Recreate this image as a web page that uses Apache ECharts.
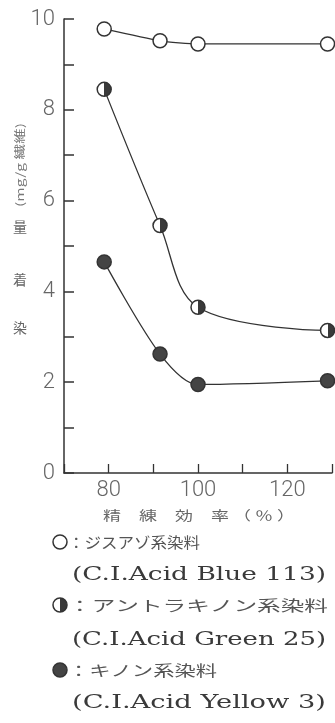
<!DOCTYPE html>
<html>
<head>
<meta charset="utf-8">
<style>
html,body{margin:0;padding:0;background:#fff;}
#chart{width:335px;height:723px;}
</style>
<script src="https://cdn.jsdelivr.net/npm/echarts@6/dist/echarts.min.js"></script>
</head>
<body>
<div id="chart"></div>
<script>
// ---- data ----
var scouringEfficiency = [79, 91.5, 100, 129];          // 精練効率 (%)
var disazoBlue113      = [9.78, 9.52, 9.45, 9.45];      // ジスアゾ系染料
var anthraquinoneGreen25 = [8.45, 5.45, 3.65, 3.14];    // アントラキノン系染料
var quinoneYellow3     = [4.65, 2.62, 1.95, 2.03];      // キノン系染料
var xTickLabels = [80, 100, 120];
var yTickLabels = [0, 2, 4, 6, 8, 10];
var yTitleChars = ['染', '着', '量'];
var yTitleUnit = '(mg/g 繊維)';
var xTitle = '精　練　効　率 （ ％ ）';
var legendNames = ['：ジスアゾ系染料', '：アントラキノン系染料', '：キノン系染料'];
var legendDyes = ['(C.I.Acid Blue 113)', '(C.I.Acid Green 25)', '(C.I.Acid Yellow 3)'];

function pairs(ys){ return ys.map(function(y,i){ return [scouringEfficiency[i], y]; }); }

var INK = '#333';
var halfStops = [
  {offset:0, color:'#fff'},{offset:0.5, color:'#fff'},{offset:0.5, color:'#3a3a3a'},{offset:1, color:'#3a3a3a'}];
var halfFill = {type:'linear', x:0, y:0, x2:1, y2:0, colorStops:halfStops};
var fills = ['#fff', halfFill, '#444'];

var measureCtx = document.createElement('canvas').getContext('2d');
function txtStyle(str, font, color, align){
  return {text:str, font:font, fill:color, align:align, verticalAlign:'middle'};
}
function fitText(str, font, x, y, width, color, rot){
  measureCtx.font = font;
  var w = measureCtx.measureText(str).width;
  var el = {type:'text', x:x, y:y, scaleX: width / w, style:txtStyle(str, font, color, 'left')};
  if (rot) el.rotation = rot;
  return el;
}

var cjk = '"Noto Sans CJK JP", "Noto Sans CJK SC", sans-serif';
var graphics = [];
// y axis title (vertical)
var yCharY = [328, 280, 227];
yTitleChars.forEach(function(c,i){
  graphics.push({type:'text', x:20, y:yCharY[i], style:txtStyle(c, '14px ' + cjk, '#666', 'center')});
});
graphics.push(fitText(yTitleUnit, '11px ' + cjk, 20, 207, 84, '#777', Math.PI/2));
// x axis title
graphics.push(fitText(xTitle, '13px ' + cjk, 103, 515, 192, '#666'));
// legend
var legY = [542, 605, 670];
var dyeY = [575, 640, 703];
var nameW = [132, 260, 149];
legendNames.forEach(function(n,i){
  graphics.push({type:'circle', shape:{cx:60, cy:legY[i], r:7},
    style:{fill: i===1 ? {type:'linear', x:0,y:0,x2:1,y2:0, colorStops:halfStops} : fills[i], stroke:INK, lineWidth:1.5}});
  graphics.push(fitText(n, '15px ' + cjk, 68, legY[i], nameW[i], '#555'));
  graphics.push(fitText(legendDyes[i], '18px "DejaVu Serif", "Liberation Serif", serif', 72, dyeY[i], 254, '#3a3a3a'));
});

var chart = echarts.init(document.getElementById('chart'));
function lineSeries(name, ys, fill, smooth){
  return {name:name, type:'line', data:pairs(ys), smooth:smooth, symbol:'circle', symbolSize:14,
    lineStyle:{color:INK, width:1.3}, itemStyle:{color:fill, borderColor:INK, borderWidth:1.5},
    emphasis:{disabled:true}, z:3};
}
chart.setOption({
  animation:false,
  backgroundColor:'#fff',
  grid:{left:64, right:0, top:19, bottom:250, containLabel:false},
  xAxis:{type:'value', min:70, max:130, interval:10,
    axisLine:{lineStyle:{color:INK, width:1.5}},
    axisTick:{show:true, inside:true, length:9, lineStyle:{color:INK, width:1.3}},
    splitLine:{show:false},
    axisLabel:{margin:6, fontSize:22, color:'#666', fontFamily:'Roboto, "DejaVu Sans", sans-serif', fontWeight:300,
      formatter:function(v){ return xTickLabels.indexOf(v) >= 0 ? String(v) : ''; }}},
  yAxis:{type:'value', min:0, max:10, interval:1,
    axisLine:{show:true, lineStyle:{color:INK, width:1.5}},
    axisTick:{show:true, inside:true, length:10, lineStyle:{color:INK, width:1.5}},
    splitLine:{show:false},
    axisLabel:{margin:9, fontSize:22, color:'#666', fontFamily:'Roboto, "DejaVu Sans", sans-serif', fontWeight:300,
      formatter:function(v){ return yTickLabels.indexOf(v) >= 0 ? String(v) : ''; }}},
  series:[
    lineSeries('ジスアゾ系染料 (C.I.Acid Blue 113)', disazoBlue113, fills[0], 0.2),
    lineSeries('アントラキノン系染料 (C.I.Acid Green 25)', anthraquinoneGreen25, fills[1], 0.35),
    lineSeries('キノン系染料 (C.I.Acid Yellow 3)', quinoneYellow3, fills[2], 0.3)
  ],
  graphic:graphics
});
</script>
</body>
</html>
